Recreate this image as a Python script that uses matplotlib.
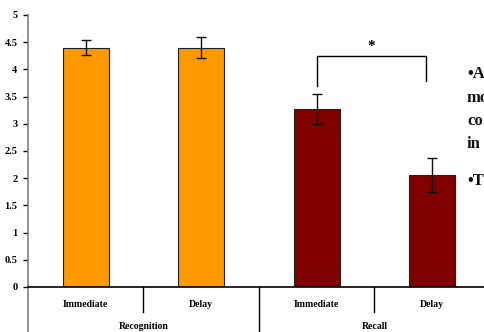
import matplotlib.pyplot as plt
import numpy as np

plt.rcParams['font.family'] = ['Liberation Serif', 'DejaVu Serif']
plt.rcParams['font.weight'] = 'bold'

conditions = ['Immediate', 'Delay', 'Immediate', 'Delay']
groups = ['Recognition', 'Recall']
means = [4.40, 4.40, 3.27, 2.06]
errors = [0.14, 0.19, 0.27, 0.31]
colors = ['#FF9900', '#FF9900', '#800000', '#800000']
side_text = ['•A', 'mo', 'co', 'in', '•T']

fig = plt.figure(figsize=(4.85, 3.32), dpi=100)
ax = fig.add_axes([28/485, 1 - 287/332, 462/485, 272/332])

x = np.arange(len(means)) + 0.5
ax.bar(x, means, width=0.4, color=colors, edgecolor='#202020', linewidth=0.8, zorder=2)
ax.errorbar(x, means, yerr=errors, fmt='none', ecolor='#101010', elinewidth=1,
            capsize=3.5, capthick=1, zorder=3)

ax.set_xlim(0, 4)
ax.set_ylim(0, 5)
ax.set_yticks(np.arange(0, 5.01, 0.5))
ax.set_yticklabels(['0', '0.5', '1', '1.5', '2', '2.5', '3', '3.5', '4', '4.5', '5'])
ax.tick_params(axis='y', length=3.5, width=1, pad=4, labelsize=7.5)
ax.set_xticks([])

for s in ['top', 'right']:
    ax.spines[s].set_visible(False)
ax.spines['left'].set_color('#808080')
ax.spines['left'].set_linewidth(1.2)
ax.spines['bottom'].set_color('black')
ax.spines['bottom'].set_linewidth(1.2)

# category separators below the axis
trans = ax.get_xaxis_transform()
for xv, low in [(0, -0.17), (1, -0.092), (2, -0.17), (3, -0.092)]:
    ax.plot([xv, xv], [0, low], color='#808080' if xv == 0 else 'black',
            lw=1.2 if xv == 0 else 1, transform=trans, clip_on=False)

for xi, lab in zip(x, conditions):
    ax.text(xi, -0.066, lab, transform=trans, ha='center', va='center', fontsize=7)
for gi, g in enumerate(groups):
    ax.text(1 + 2 * gi, -0.147, g, transform=trans, ha='center', va='center', fontsize=7)

# significance bracket
ax.plot([2.5, 2.5, 3.45, 3.45], [3.70, 4.25, 4.25, 3.78], color='black', lw=1, zorder=3)
ax.text(2.97, 4.43, '*', ha='center', va='center', fontsize=11)

# cropped slide text on the right
for ty, t in zip([74, 98, 121, 144, 181], side_text):
    fig.text(467/485, 1 - ty/332, t, ha='left', va='center', fontsize=12, color='#111111')

fig.savefig('out.png', dpi=100)
